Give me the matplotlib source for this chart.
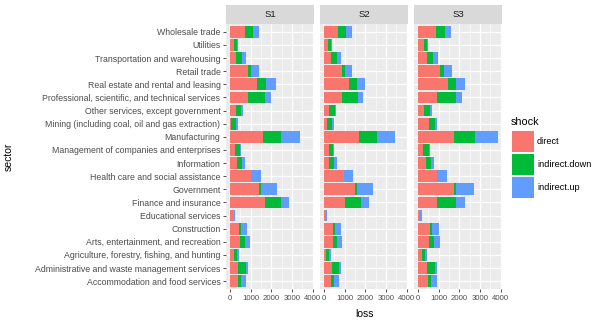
import numpy as np
import matplotlib.pyplot as plt
from matplotlib.patches import Rectangle

plt.rcParams['font.family'] = ['Liberation Sans', 'DejaVu Sans']

# sectors, top to bottom as shown
sectors = [
    "Wholesale trade",
    "Utilities",
    "Transportation and warehousing",
    "Retail trade",
    "Real estate and rental and leasing",
    "Professional, scientific, and technical services",
    "Other services, except government",
    "Mining (including coal, oil and gas extraction)",
    "Manufacturing",
    "Management of companies and enterprises",
    "Information",
    "Health care and social assistance",
    "Government",
    "Finance and insurance",
    "Educational services",
    "Construction",
    "Arts, entertainment, and recreation",
    "Agriculture, forestry, fishing, and hunting",
    "Administrative and waste management services",
    "Accommodation and food services",
]

scenarios = ["S1", "S2", "S3"]
shocks = ["direct", "indirect.down", "indirect.up"]
colors = ["#F8766D", "#00BA38", "#619CFF"]

# loss per sector, same order as sectors
s1_direct = [726, 194, 290, 871, 1306, 871, 290, 48, 1597, 242,
             339, 1016, 1403, 1694, 194, 435, 484, 194, 387, 387]
s1_down = [387, 145, 290, 145, 435, 823, 242, 242, 871, 242,
           242, 0, 97, 774, 0, 97, 242, 145, 387, 145]
s1_up = [290, 32, 194, 387, 484, 290, 97, 97, 919, 32,
         145, 484, 774, 387, 48, 290, 242, 97, 97, 242]

s2_direct = [677, 194, 339, 871, 1210, 871, 242, 145, 1694, 242,
             242, 968, 1500, 1016, 60, 435, 435, 97, 387, 339]
s2_down = [387, 145, 290, 145, 387, 774, 290, 242, 871, 194,
           242, 0, 97, 774, 0, 97, 194, 145, 339, 145]
s2_up = [290, 32, 194, 339, 387, 242, 48, 97, 871, 48,
         145, 435, 774, 387, 100, 290, 242, 97, 97, 242]

s3_direct = [871, 290, 435, 1065, 1452, 919, 290, 532, 1742, 242,
             387, 919, 1742, 919, 70, 581, 532, 194, 435, 484]
s3_down = [435, 145, 290, 194, 387, 919, 290, 290, 1016, 290,
           242, 0, 97, 919, 0, 97, 242, 145, 387, 145]
s3_up = [290, 48, 242, 387, 435, 290, 97, 97, 1113, 48,
         145, 484, 871, 435, 100, 339, 290, 97, 97, 290]

data = {
    "S1": [s1_direct, s1_down, s1_up],
    "S2": [s2_direct, s2_down, s2_up],
    "S3": [s3_direct, s3_down, s3_up],
}

W, H = 610, 325
fig = plt.figure(figsize=(W / 100, H / 100), dpi=100)

tot_max = max(np.sum(data[s], axis=0).max() for s in scenarios)
xlim = (-0.05 * tot_max, 1.05 * tot_max)
y = np.arange(len(sectors))

panel_left = [226, 320, 414]
pw = 88
top, bot = 24, 289
fs = 6.3

for i, s in enumerate(scenarios):
    ax = fig.add_axes([panel_left[i] / W, (H - bot) / H, pw / W, (bot - top) / H])
    ax.set_facecolor("#EBEBEB")
    left = np.zeros(len(sectors))
    for vals, c in zip(data[s], colors):
        ax.barh(y, vals, left=left, height=0.9, color=c, zorder=3)
        left = left + np.array(vals)
    ax.set_xlim(*xlim)
    ax.set_ylim(len(sectors) - 0.4, -0.6)
    ax.set_xticks([0, 1000, 2000, 3000, 4000])
    ax.set_xticks([500, 1500, 2500, 3500], minor=True)
    ax.set_yticks(y)
    ax.grid(True, which="major", color="white", lw=0.9, zorder=0)
    ax.grid(True, which="minor", axis="x", color="white", lw=0.4, zorder=0)
    for sp in ax.spines.values():
        sp.set_visible(False)
    ax.tick_params(which="major", length=2.5, width=0.6, color="#333333",
                   labelsize=fs, labelcolor="#4D4D4D", pad=1.5)
    ax.tick_params(axis="x", labelsize=5.6)
    ax.tick_params(which="minor", length=0)
    if i == 0:
        ax.set_yticklabels(sectors)
    else:
        ax.tick_params(axis="y", length=0, labelleft=False)

    # facet strip
    sax = fig.add_axes([panel_left[i] / W, (H - top) / H, pw / W, 19 / H])
    sax.set_facecolor("#D9D9D9")
    sax.set_xticks([])
    sax.set_yticks([])
    for sp in sax.spines.values():
        sp.set_visible(False)
    sax.text(0.5, 0.5, s, ha="center", va="center", fontsize=6.8, color="#1A1A1A")

fig.text(364 / W, 1 - 314 / H, "loss", ha="center", va="center", fontsize=7.5)
fig.text(9 / W, 1 - 157 / H, "sector", ha="center", va="center", rotation=90, fontsize=7.5)

# legend drawn by hand, ggplot style
fig.text(511 / W, 1 - 122 / H, "shock", ha="left", va="center", fontsize=7.8)
for k, (lab, c) in enumerate(zip(shocks, colors)):
    ytop = 131 + 23 * k
    fig.add_artist(Rectangle((512 / W, 1 - (ytop + 21) / H), 22 / W, 21 / H,
                             transform=fig.transFigure, facecolor=c,
                             edgecolor="none"))
    fig.text(537 / W, 1 - (ytop + 10.5) / H, lab, ha="left", va="center",
             fontsize=6.6)

fig.savefig("out.png", dpi=100)
